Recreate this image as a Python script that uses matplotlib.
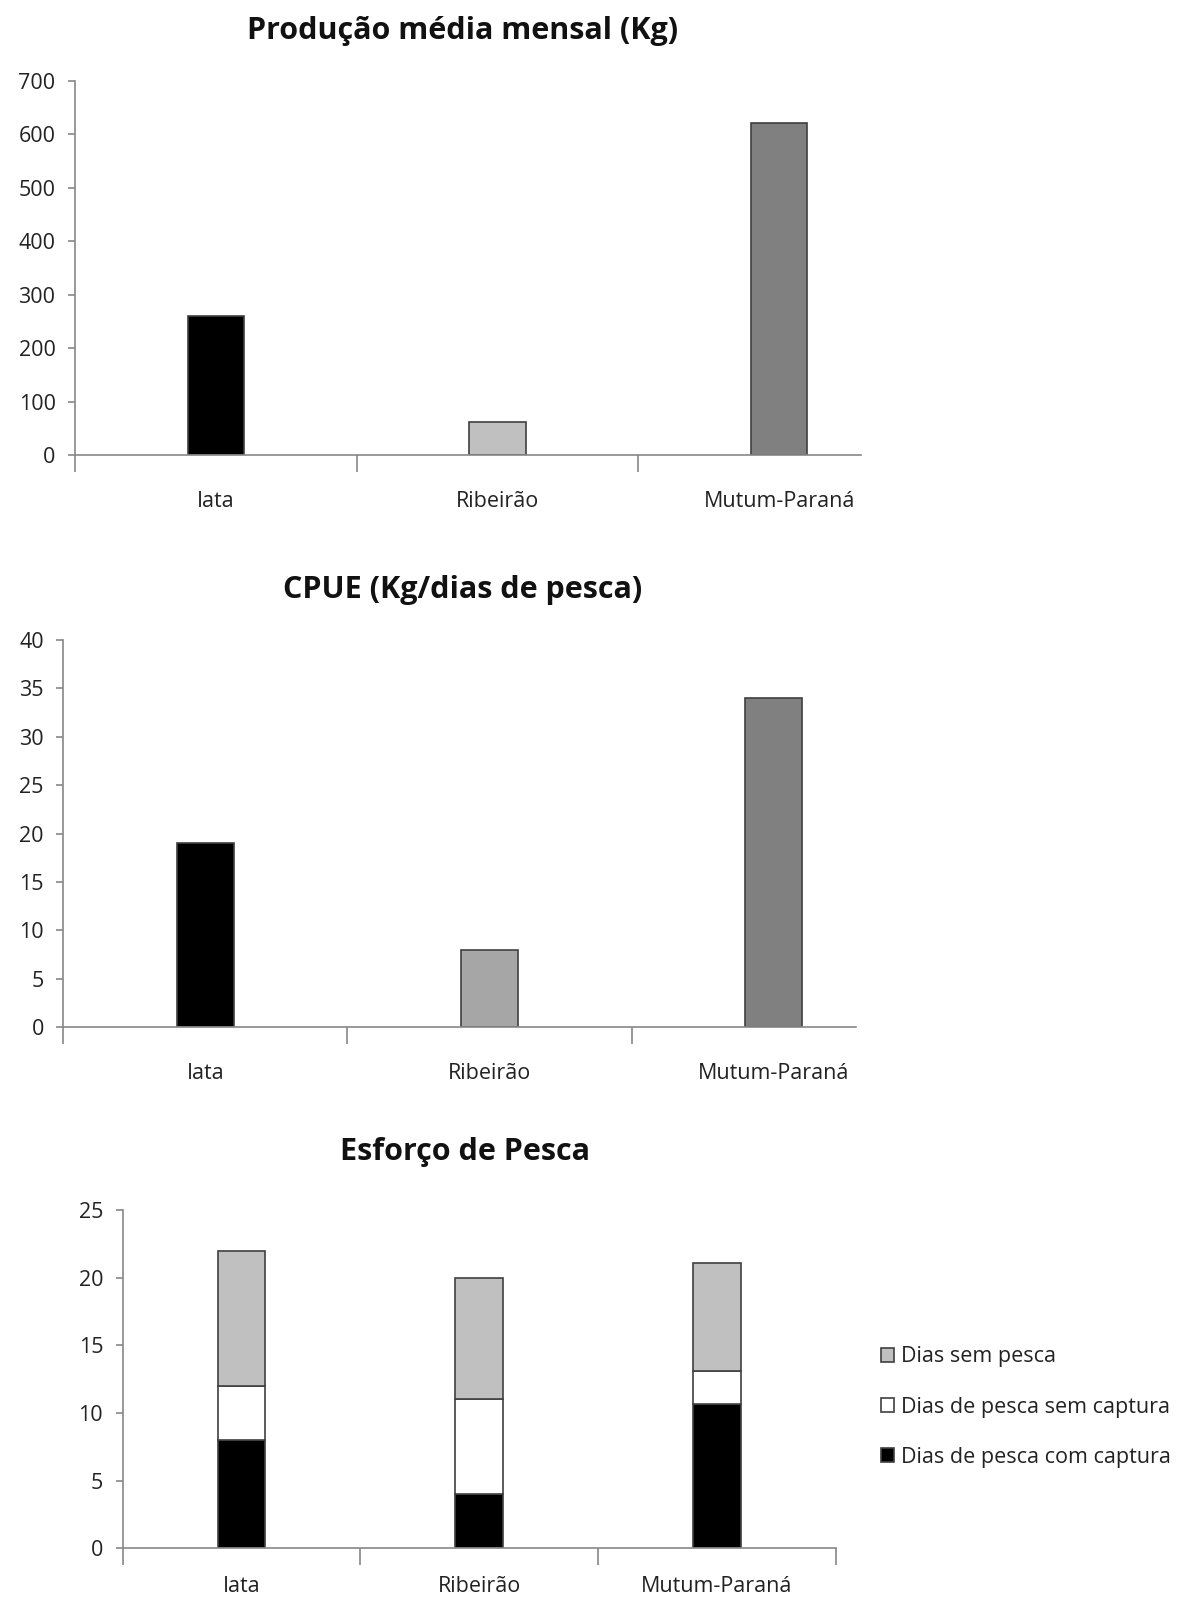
import matplotlib
matplotlib.use("Agg")
import matplotlib.pyplot as plt
from matplotlib.patches import Patch

plt.rcParams['font.family'] = ['Open Sans', 'DejaVu Sans']

locais = ["Iata", "Ribeirão", "Mutum-Paraná"]

producao = [260, 63, 621]
cpue = [19, 8, 34]

com_captura = [8, 4, 10.7]
sem_captura = [4, 7, 2.4]
sem_pesca = [10, 9, 8.0]

cores_prod = ["#000000", "#c0c0c0", "#808080"]
cores_cpue = ["#000000", "#a6a6a6", "#808080"]

W, H = 1188, 1602
fig = plt.figure(figsize=(W / 100, H / 100), dpi=100)

AXIS = "#888888"
EDGE = "#404040"
TXT = "#222222"
FS = 15.5


def box(left, top, right, bottom):
    return [left / W, 1 - bottom / H, (right - left) / W, (bottom - top) / H]


def estilo(ax, ymax, step, xmax, pad_x=26):
    ax.set_yticks(range(0, ymax + 1, step))
    for s in ("top", "right"):
        ax.spines[s].set_visible(False)
    for s in ("left", "bottom"):
        ax.spines[s].set_color(AXIS)
        ax.spines[s].set_linewidth(1.2)
    ax.tick_params(axis="y", length=5, width=1.2, color=AXIS, labelsize=FS,
                   labelcolor=TXT, pad=9)
    # category labels sit between the boundary ticks
    limites = [b for b in (-0.5, 0.5, 1.5, 2.5) if b <= xmax]
    ax.set_xticks(limites)
    ax.set_xticklabels([])
    ax.set_xticks(range(len(locais)), minor=True)
    ax.set_xticklabels(locais, minor=True)
    ax.tick_params(axis="x", which="major", length=12, width=1.2, color=AXIS)
    ax.tick_params(axis="x", which="minor", length=0, labelsize=FS,
                   labelcolor=TXT, pad=pad_x)
    ax.set_ylim(0, ymax)
    ax.set_xlim(-0.5, xmax)


# Produção média mensal
ax1 = fig.add_axes(box(75, 80.7, 861, 455.3))
ax1.bar(range(len(locais)), producao, width=0.2, color=cores_prod,
        edgecolor=EDGE, linewidth=1.2)
estilo(ax1, 700, 100, 2.29)
fig.text(463 / W, 1 - 31 / H, "Produção média mensal (Kg)", ha="center",
         va="center", fontsize=22, fontweight="bold", color="#111111")

# CPUE
ax2 = fig.add_axes(box(63.3, 640, 856, 1027.3))
ax2.bar(range(len(locais)), cpue, width=0.2, color=cores_cpue,
        edgecolor=EDGE, linewidth=1.2)
estilo(ax2, 40, 5, 2.29)
fig.text(463 / W, 1 - 590 / H, "CPUE (Kg/dias de pesca)", ha="center",
         va="center", fontsize=22, fontweight="bold", color="#111111")

# Esforço de pesca (empilhado)
ax3 = fig.add_axes(box(122.6, 1210, 835.6, 1548.3))
x = range(len(locais))
base2 = [a + b for a, b in zip(com_captura, sem_captura)]
ax3.bar(x, com_captura, width=0.2, color="#000000", edgecolor=EDGE, linewidth=1.2)
ax3.bar(x, sem_captura, width=0.2, bottom=com_captura, color="#ffffff",
        edgecolor=EDGE, linewidth=1.2)
ax3.bar(x, sem_pesca, width=0.2, bottom=base2, color="#c0c0c0",
        edgecolor=EDGE, linewidth=1.2)
estilo(ax3, 25, 5, 2.5, pad_x=20)
fig.text(465 / W, 1 - 1152 / H, "Esforço de Pesca", ha="center",
         va="center", fontsize=22, fontweight="bold", color="#111111")

handles = [
    Patch(facecolor="#c0c0c0", edgecolor=EDGE, linewidth=1.2, label="Dias sem pesca"),
    Patch(facecolor="#ffffff", edgecolor=EDGE, linewidth=1.2, label="Dias de pesca sem captura"),
    Patch(facecolor="#000000", edgecolor=EDGE, linewidth=1.2, label="Dias de pesca com captura"),
]
fig.legend(handles=handles, loc="center left",
           bbox_to_anchor=(872 / W, 1 - 1407 / H), frameon=False,
           fontsize=15.5, labelcolor=TXT, handlelength=0.6, handleheight=0.6,
           handletextpad=0.35, labelspacing=1.35, borderaxespad=0)

fig.savefig("out.png", dpi=100, facecolor="white")
